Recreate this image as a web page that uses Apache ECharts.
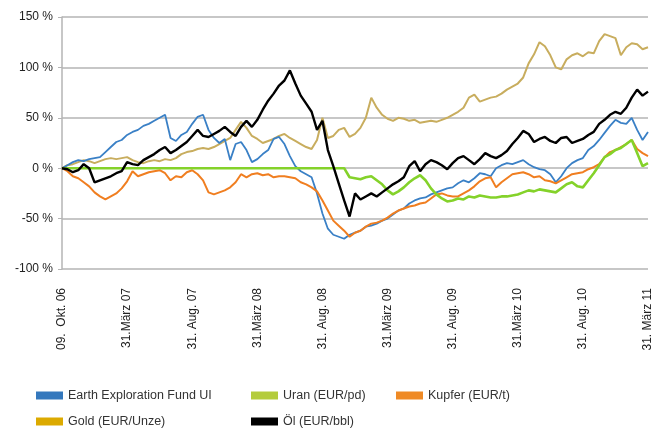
<!DOCTYPE html>
<html>
<head>
<meta charset="utf-8">
<script src="https://cdn.jsdelivr.net/npm/echarts@6/dist/echarts.min.js"></script>
<style>html,body{margin:0;padding:0;background:#fff}#chart{width:660px;height:433px}</style>
</head>
<body>
<div id="chart"></div>
<script>
var tickLabels = ['09.  Okt. 06','31.März 07','31. Aug. 07','31.März 08','31. Aug. 08','31.März 09','31. Aug. 09','31.März 10','31. Aug. 10','31. März 11'];
var pointsPerStep = 12;

var fund = [0,3,6,8,7,9,10,11,16,21,26,28,33,36,38,42,44,47,50,53,30,27,33,36,44,51,53,38,30,25,29,8,24,26,18,6,9,14,18,29,31,24,12,2,-3,-6,-9,-25,-45,-60,-66,-68,-70,-66,-64,-62,-58,-57,-55,-52,-50,-46,-42,-40,-35,-32,-30,-29,-26,-24,-22,-20,-19,-15,-12,-14,-10,-5,-6,-8,0,3,5,4,6,8,4,1,-1,-2,-6,-14,-8,0,5,8,10,18,22,28,35,42,48,45,44,50,38,28,36];
var uran = [0,0,0,0,0,0,0,0,0,0,0,0,0,0,0,0,0,0,0,0,0,0,0,0,0,0,0,0,0,0,0,0,0,0,0,0,0,0,0,0,0,0,0,0,0,0,0,0,0,0,0,0,0,-9,-10,-11,-9,-8,-12,-16,-22,-26,-23,-19,-14,-10,-7,-12,-20,-26,-30,-33,-32,-30,-31,-28,-29,-27,-28,-29,-29,-28,-28,-27,-26,-24,-22,-23,-21,-22,-23,-24,-20,-16,-14,-18,-19,-12,-5,3,11,14,18,20,24,28,15,2,5];
var kupfer = [0,-3,-8,-10,-14,-18,-24,-28,-31,-28,-25,-20,-13,-3,-8,-6,-4,-3,-2,-5,-12,-8,-9,-4,-2,-6,-12,-24,-26,-24,-22,-19,-14,-6,-9,-6,-5,-7,-6,-9,-8,-8,-9,-10,-14,-16,-19,-23,-32,-42,-52,-57,-62,-68,-64,-62,-58,-55,-54,-52,-49,-45,-42,-40,-38,-37,-35,-34,-30,-26,-25,-27,-28,-28,-25,-22,-18,-13,-10,-9,-19,-14,-10,-6,-5,-4,-6,-9,-8,-12,-13,-15,-12,-9,-6,-5,-4,-1,1,4,11,16,18,21,24,28,19,15,12];
var gold = [0,3,4,6,8,7,5,7,9,10,9,10,11,8,6,5,7,8,7,9,8,10,14,16,17,19,20,19,21,24,27,30,38,46,40,32,29,25,27,29,32,34,30,27,24,21,19,28,50,30,32,38,40,31,34,40,50,70,60,53,49,47,50,49,47,48,45,46,47,46,48,50,53,56,60,70,73,66,68,70,71,74,78,81,84,90,104,113,125,121,112,100,98,108,112,114,111,115,114,126,133,131,129,112,120,124,123,118,120];
var oel = [0,-1,-4,-2,4,0,-14,-12,-10,-8,-5,-3,6,4,3,8,11,14,18,21,15,18,22,26,32,38,32,31,34,37,41,36,32,41,47,41,48,58,67,74,82,87,97,84,72,64,56,38,47,18,2,-15,-32,-48,-25,-31,-28,-25,-28,-24,-20,-16,-13,-9,2,7,-3,4,8,6,3,-1,5,10,12,8,4,9,15,12,10,13,17,24,30,37,34,26,29,31,27,25,30,31,25,27,29,33,36,44,48,53,56,54,60,70,78,72,76];

var categories = fund.map(function (v, i) { return String(i); });

var chart = echarts.init(document.getElementById('chart'), null, {renderer: 'canvas'});
var legendFont = {fontFamily: '"Liberation Sans",Arial,sans-serif', fontSize: 12.5, color: '#333'};
function leg(name, left, top) {
  return {data: [name], left: left, top: top, padding: 0, icon: 'rect', itemWidth: 27, itemHeight: 8, itemGap: 0, textStyle: legendFont, selectedMode: false};
}
function ser(name, data, itemColor, lineColor, width, z) {
  return {name: name, type: 'line', data: data, showSymbol: false, symbol: 'none', z: z,
    itemStyle: {color: itemColor}, lineStyle: {color: lineColor, width: width}, animation: false};
}
chart.setOption({
  animation: false,
  backgroundColor: '#fff',
  grid: {left: 62, right: 12, top: 17, bottom: 164},
  legend: [
    leg('Earth Exploration Fund UI', 36, 389),
    leg('Uran (EUR/pd)', 251, 389),
    leg('Kupfer (EUR/t)', 396, 389),
    leg('Gold (EUR/Unze)', 36, 415),
    leg('Öl (EUR/bbl)', 251, 415)
  ],
  xAxis: {
    type: 'category', data: categories, boundaryGap: false,
    axisLine: {show: false}, axisTick: {show: false}, splitLine: {show: false},
    axisLabel: {
      interval: function (i) { return i % pointsPerStep === 0; },
      formatter: function (v, i) { return i % pointsPerStep === 0 ? tickLabels[i / pointsPerStep] : ''; },
      rotate: 90, margin: 19, fontSize: 12, color: '#222', fontFamily: '"Liberation Sans",Arial,sans-serif'
    }
  },
  yAxis: {
    type: 'value', min: -100, max: 150, interval: 50,
    axisLine: {show: true, lineStyle: {color: '#b5b5b5', width: 1.5}},
    axisTick: {show: true, length: 4, lineStyle: {color: '#b5b5b5'}},
    splitLine: {lineStyle: {color: '#b5b5b5', width: 1.5}},
    axisLabel: {formatter: '{value} %', fontSize: 12, color: '#222', margin: 9, fontFamily: '"Liberation Sans",Arial,sans-serif'}
  },
  series: [
    ser('Gold (EUR/Unze)', gold, '#dcaa00', '#c8ad5e', 2, 2),
    ser('Earth Exploration Fund UI', fund, '#3478bd', '#3a80c6', 1.8, 3),
    ser('Kupfer (EUR/t)', kupfer, '#ef8a25', '#f07e20', 2, 4),
    ser('Uran (EUR/pd)', uran, '#b4cc3c', '#84d22a', 2.6, 5),
    ser('Öl (EUR/bbl)', oel, '#000000', '#000000', 2.4, 6)
  ]
});
</script>
</body>
</html>
